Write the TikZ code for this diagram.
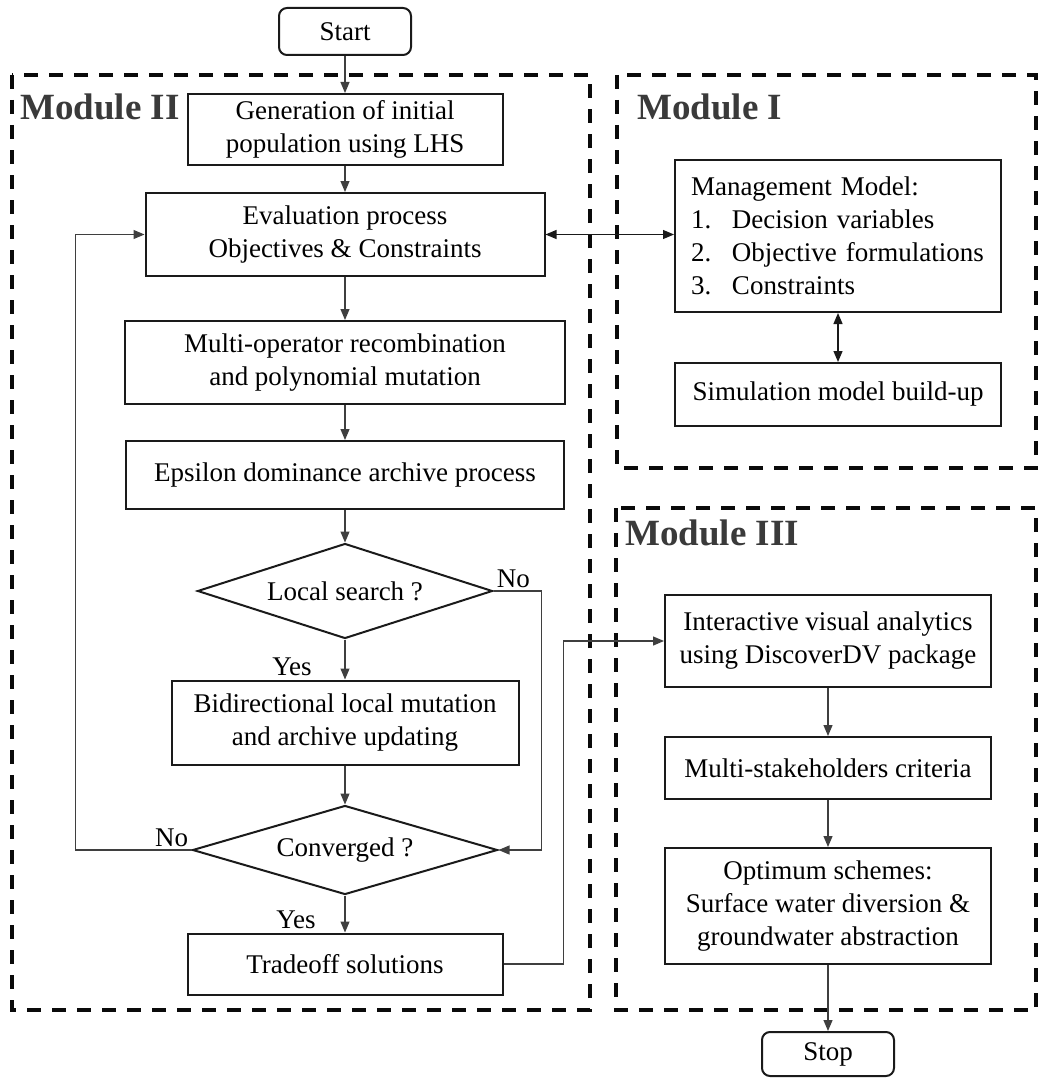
\documentclass[tikz,border=0pt]{standalone}
\usepackage{fontspec}
\setmainfont{Liberation Serif}
\usepackage{tikz}
\usetikzlibrary{shapes.geometric, arrows.meta, positioning}
\usepackage{xcolor}
\definecolor{ink}{HTML}{1A1A1A}
\definecolor{framegray}{HTML}{0A0A0A}
\definecolor{labelgray}{HTML}{3A3A3A}
\definecolor{linegray}{HTML}{3F3F3F}

\begin{document}
\begin{tikzpicture}[
    x=0.5pt, y=-0.5pt,
    font=\fontsize{13.5}{16.5}\selectfont,
    proc/.style={draw=ink, line width=1pt, rectangle, align=center, inner sep=2pt},
    term/.style={draw=ink, line width=1pt, rounded corners=4pt, minimum width=66pt, inner sep=2pt},
    decide/.style={draw=ink, line width=1pt, diamond, aspect=3, inner sep=0pt},
    arr/.style={-{Triangle[length=5.5pt, width=4.5pt]}, line width=0.6pt, draw=linegray},
    dblarr/.style={{Triangle[length=5.5pt, width=4.5pt]}-{Triangle[length=5.5pt, width=4.5pt]}, line width=0.6pt, draw=ink},
    modframe/.style={draw=framegray, line width=1.8pt, dash pattern=on 7pt off 5.5pt},
    modlabel/.style={font=\fontsize{18.5}{20}\selectfont\bfseries, text=labelgray, inner sep=0pt, anchor=west},
    lbl/.style={inner sep=1.5pt}
]
    \useasboundingbox (0,0) rectangle (1040,1081);

    % module frames
    \draw[modframe] (12,75) rectangle (590,1010);
    \draw[modframe] (617,75) rectangle (1036,468);
    \draw[modframe] (616,508) rectangle (1036,1010);
    \node[modlabel] (modtwo) at (20,107) {Module II};
    \node[modlabel] (modone) at (637,107) {Module I};
    \node[modlabel] (modthree) at (625,533) {Module III};

    % Module II: optimisation loop
    \node[term, minimum height=23.5pt] (start) at (345,31.5) {Start};
    \node[proc, minimum width=157.5pt, minimum height=35.5pt, below=18.5pt of start] (gen) {Generation of initial\\population using LHS};
    \node[proc, minimum width=199.5pt, minimum height=41.5pt, below=13pt of gen] (eval) {Evaluation process\\Objectives \& Constraints};
    \node[proc, minimum width=220pt, minimum height=41.5pt, below=21.5pt of eval] (multi) {Multi-operator recombination\\and polynomial mutation};
    \node[proc, minimum width=219pt, minimum height=34pt, below=17.5pt of multi] (eps) {Epsilon dominance archive process};
    \node[decide, minimum width=147.5pt, minimum height=47.5pt, below=16.25pt of eps] (local) {Local search ?};
    \node[proc, minimum width=173.5pt, minimum height=42pt, below=20pt of local] (bidir) {Bidirectional local mutation\\and archive updating};
    \node[decide, minimum width=152.5pt, minimum height=44.5pt, below=19.5pt of bidir] (conv) {Converged ?};
    \node[proc, minimum width=157.5pt, minimum height=30.5pt, below=18.5pt of conv] (trade) {Tradeoff solutions};

    % Module I: models
    \node[proc, align=left, text width=147pt, inner xsep=8pt, minimum height=76pt] (mgmt) at (838,236) {Management Model:\\
        \makebox[20.5pt][l]{1.}Decision variables\\
        \makebox[20.5pt][l]{2.}Objective formulations\\
        \makebox[20.5pt][l]{3.}Constraints};
    \node[proc, minimum width=163pt, minimum height=31.5pt, below=24.5pt of mgmt] (sim) {Simulation model build-up};

    % Module III: decision making
    \node[proc, minimum width=163pt, minimum height=46pt] (inter) at (828,641) {Interactive visual analytics\\using DiscoverDV package};
    \node[proc, minimum width=163pt, minimum height=31pt, below=24pt of inter] (stake) {Multi-stakeholders criteria};
    \node[proc, minimum width=163pt, minimum height=58pt, below=23.5pt of stake] (opt) {Optimum schemes:\\Surface water diversion \&\\groundwater abstraction};
    \node[term, minimum height=22pt, below=33pt of opt] (stop) {Stop};

    % yes / no labels
    \node[lbl, anchor=south west] (nolocal) at (local.east) {No};
    \node[lbl, anchor=south east] (yeslocal) at ([xshift=-15pt]bidir.north) {Yes};
    \node[lbl, anchor=south east] (noconv) at (conv.west) {No};
    \node[lbl, anchor=south east] (yesconv) at ([xshift=-13pt]trade.north) {Yes};

    % connectors
    \draw[arr] (start) -- (gen);
    \draw[arr] (gen) -- (eval);
    \draw[arr] (eval) -- (multi);
    \draw[arr] (multi) -- (eps);
    \draw[arr] (eps) -- (local);
    \draw[arr] (local) -- (bidir);
    \draw[arr] (bidir) -- (conv);
    \draw[arr] (conv) -- (trade);
    \draw[arr] (local.east) -- ++(24pt,0) |- (conv.east);
    \draw[arr] (conv.west) -- ++(-58pt,0) |- (eval.west);
    \draw[dblarr] (eval.east) -- (eval.east -| mgmt.west);
    \draw[dblarr] (mgmt) -- (sim);
    \draw[arr] (trade.east) -- ++(30pt,0) |- (inter.west);
    \draw[arr] (inter) -- (stake);
    \draw[arr] (stake) -- (opt);
    \draw[arr] (opt) -- (stop);
\end{tikzpicture}
\end{document}
